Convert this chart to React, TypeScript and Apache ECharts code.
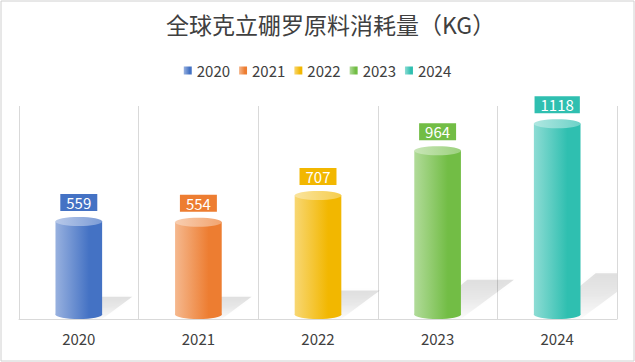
import React, { useEffect, useRef } from "react";
import * as echarts from "echarts";

const categories = ["2020", "2021", "2022", "2023", "2024"];
const values = [559, 554, 707, 964, 1118];
const colors = ["#4472C4", "#ED7D31", "#F2B700", "#72BD45", "#2FBFB0"];
const titleText = "全球克立硼罗原料消耗量（KG）";

function mix(hex: string, t: number): string {
  const n = parseInt(hex.slice(1), 16);
  const r = (n >> 16) & 255, g = (n >> 8) & 255, b = n & 255;
  const m = (c: number) => Math.round(c + (255 - c) * t);
  return `rgb(${m(r)},${m(g)},${m(b)})`;
}

const bodyGrad = (c: string) =>
  new echarts.graphic.LinearGradient(0, 0, 1, 0, [
    { offset: 0, color: mix(c, 0.45) },
    { offset: 0.72, color: c },
    { offset: 1, color: c },
  ]);
const topGrad = (c: string) =>
  new echarts.graphic.LinearGradient(0, 0, 1, 0, [
    { offset: 0, color: mix(c, 0.62) },
    { offset: 1, color: mix(c, 0.3) },
  ]);

export default function App() {
  const ref = useRef<HTMLDivElement>(null);
  useEffect(() => {
    document.body.style.margin = "0";
    const chart = echarts.init(ref.current!, null, { renderer: "svg" });
    const font = '"Noto Sans CJK SC", "Noto Sans", sans-serif';
    const series = categories.map((name, i) => ({
      name,
      type: "custom",
      clip: false,
      itemStyle: { color: bodyGrad(colors[i]) },
      encode: { x: 0, y: 1 },
      data: [[i, values[i]]],
      renderItem: (params: any, api: any) => {
        const cs = params.coordSys;
        const idx = api.value(0);
        const v = api.value(1);
        const top = api.coord([idx, v]);
        const base = api.coord([idx, 0]);
        const bw = api.size([1, 0])[0] * 0.39;
        const rx = bw / 2;
        const ry = 4.5;
        const cx = top[0];
        const x0 = cx - rx, x1 = cx + rx;
        const baseY = base[1];
        const botC = baseY - ry;
        const h = botC - top[1];
        const hs = h * 0.24;
        const dx = hs * 1.35;
        const c = colors[i];
        return {
          type: "group",
          children: [
            {
              type: "group",
              clipPath: {
                type: "rect",
                shape: { x: cs.x, y: cs.y, width: cs.width, height: cs.height },
              },
              children: [
                {
                  type: "polygon",
                  shape: {
                    points: [
                      [x0 + 6, baseY],
                      [x1, baseY],
                      [x1 + dx, baseY - hs],
                      [x0 + dx, baseY - hs],
                    ],
                  },
                  style: {
                    fill: new echarts.graphic.LinearGradient(0, 0, 0, 1, [
                      { offset: 0, color: "rgba(0,0,0,0.12)" },
                      { offset: 0.5, color: "rgba(0,0,0,0.08)" },
                      { offset: 1, color: "rgba(0,0,0,0.015)" },
                    ]),
                    shadowBlur: 6,
                    shadowColor: "rgba(0,0,0,0.08)",
                  },
                },
              ],
            },
            {
              type: "ellipse",
              shape: { cx, cy: botC, rx, ry },
              style: { fill: bodyGrad(c) },
            },
            {
              type: "rect",
              shape: { x: x0, y: top[1], width: bw, height: h },
              style: { fill: bodyGrad(c) },
            },
            {
              type: "ellipse",
              shape: { cx, cy: top[1], rx, ry },
              style: { fill: topGrad(c) },
            },
            {
              type: "text",
              style: {
                text: String(v),
                x: cx,
                y: top[1] - ry - 6,
                align: "center",
                verticalAlign: "bottom",
                fill: "#fff",
                font: `15px ${font}`,
                backgroundColor: c,
                padding: [1, 6, 1, 6],
              },
            },
          ],
        };
      },
    }));
    chart.setOption({
      animation: false,
      title: {
        text: titleText,
        left: 161,
        top: 7,
        textStyle: { fontSize: 23, fontWeight: "normal", color: "#404040", fontFamily: font },
      },
      legend: {
        data: categories,
        top: 58,
        left: "center",
        icon: "rect",
        itemWidth: 8,
        itemHeight: 8,
        itemGap: 9,
        textStyle: { fontSize: 15, color: "#404040", fontFamily: font },
      },
      grid: { left: 19, right: 18, top: 106, bottom: 43, containLabel: false },
      xAxis: {
        type: "category",
        data: categories,
        axisLine: { lineStyle: { color: "#d9d9d9" } },
        axisTick: { show: false },
        splitLine: { show: true, lineStyle: { color: "#d9d9d9" } },
        axisLabel: { fontSize: 15, color: "#404040", margin: 12, fontFamily: font },
      },
      yAxis: { type: "value", min: 0, max: 1220, show: false, splitLine: { show: false } },
      graphic: [
        {
          type: "rect",
          shape: { x: 1, y: 1, width: 633, height: 360 },
          style: { fill: "none", stroke: "#d0d0d0", lineWidth: 1 },
          silent: true,
        },
      ],
      series,
    });
    return () => chart.dispose();
  }, []);
  return <div ref={ref} style={{ width: 635, height: 362 }} />;
}
